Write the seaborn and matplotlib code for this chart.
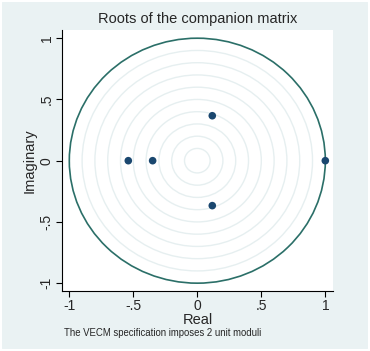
import matplotlib
matplotlib.use("Agg")
import matplotlib.pyplot as plt
from matplotlib.patches import Circle
import seaborn as sns
import pandas as pd

# eigenvalues
real = [0.117, 0.117, -0.539, -0.349, 1.0]
imag = [0.367, -0.367, 0.0, 0.0, 0.0]
grid_radii = [0.1, 0.2, 0.3, 0.4, 0.5, 0.6, 0.7, 0.8, 0.9]
ticks = [-1, -0.5, 0, 0.5, 1]
tick_labels = ["-1", "-.5", "0", ".5", "1"]

roots = pd.DataFrame({"Real": real, "Imaginary": imag})

sns.set_style("white")
plt.rcParams["font.family"] = ["Liberation Sans", "DejaVu Sans"]

bg = "#eaf2f3"
fig = plt.figure(figsize=(3.7, 3.51), dpi=100, facecolor=bg)
ax = fig.add_axes([62 / 370, 60 / 351, 271 / 370, 261 / 351])
ax.set_facecolor("white")

# grid circles and the unit circle
for r in grid_radii:
    ax.add_patch(Circle((0, 0), r, fill=False, ec="#e6eff0", lw=1.0, zorder=1))
ax.add_patch(Circle((0, 0), 1, fill=False, ec="#2b6f68", lw=1.2, zorder=2))

sns.scatterplot(data=roots, x="Real", y="Imaginary", color="#1a476f",
                s=30, edgecolor="none", zorder=3, ax=ax)

ax.set_xlim(-1.057, 1.06)
ax.set_ylim(-1.064, 1.067)
ax.set_xticks(ticks)
ax.set_xticklabels(tick_labels, fontsize=10)
ax.set_yticks(ticks)
ax.set_yticklabels(tick_labels, fontsize=10, rotation=90, va="center")
ax.tick_params(axis="both", length=4, width=0.8, color="black", pad=2,
               direction="out", bottom=True, left=True)

for s in ["top", "right"]:
    ax.spines[s].set_visible(False)
for s in ["left", "bottom"]:
    ax.spines[s].set_color("black")
    ax.spines[s].set_linewidth(0.8)

ax.set_xlabel("Real", fontsize=10.5, labelpad=0)
ax.set_ylabel("Imaginary", fontsize=10.5, labelpad=2)
ax.set_title("Roots of the companion matrix", fontsize=10.5, pad=5)

fig.text(64 / 370, 1 - 333 / 351, "The VECM specification imposes 2 unit moduli",
         fontsize=6.9, va="center", ha="left")

# thin white frame around the graph region
fig.patches.append(plt.Rectangle((0.002, 0.002), 0.996, 0.996, transform=fig.transFigure,
                                 fill=False, ec="white", lw=1.5))

fig.savefig("out.png", dpi=100, facecolor=bg)
